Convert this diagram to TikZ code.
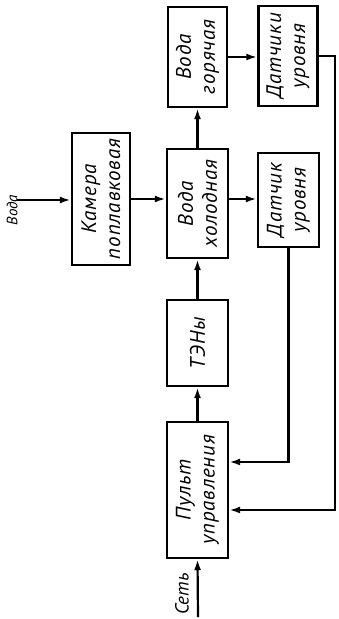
\documentclass[tikz,border=0pt]{standalone}
\usepackage{fontspec}
\setmainfont{PT Sans}
\usetikzlibrary{arrows.meta}

\tikzset{
  blok/.style={draw, line width=2.4pt, rotate=90, align=center, inner sep=0pt,
    font=\itshape\fontsize{21}{24}\selectfont\addfontfeature{LetterSpace=4}},
  strel/.style={line width=2.2pt, -{Latex[length=11pt,width=7pt]}},
  metka/.style={rotate=90, inner sep=0pt, font=\itshape\fontsize{15}{17}\selectfont},
}

\begin{document}
\begin{tikzpicture}[x=1pt, y=-1pt]
    \useasboundingbox (0,0) rectangle (338,619);

    % bloki (povernuty na 90 gradusov)
    \node[blok, minimum width=132pt, minimum height=58pt] (kam) at (101,199) {Камера\\поплавковая};
    \node[blok, minimum width=109pt, minimum height=61pt] (vx) at (197.5,203.5) {Вода\\холодная};
    \node[blok, minimum width=100pt, minimum height=59pt] (vg) at (197.5,57) {Вода\\горячая};
    \node[blok, minimum width=100pt, minimum height=59pt] (dk2) at (288,56) {Датчики\\уровня};
    \node[blok, minimum width=94pt, minimum height=61pt] (dk1) at (288.5,200) {Датчик\\уровня};
    \node[blok, minimum width=86pt, minimum height=61pt] (ten) at (197.5,343) {ТЭНы};
    \node[blok, minimum width=136pt, minimum height=61pt] (pult) at (197.5,490) {Пульт\\управления};

    % vhody
    \coordinate (vin) at (17,200);
    \coordinate (set) at (198,617);
    \coordinate (pravo) at (335,510);
    \node[metka] (lvoda) at (12,210) {Вода};
    \node[metka, font=\itshape\fontsize{19}{21}\selectfont] (lset) at (182,594) {Сеть};

    % svyazi
    \draw[strel] (vin) -- (vin -| kam.north);
    \draw[strel] (kam.south) -- (kam.south -| vx.north);
    \draw[strel] (vx.south |- kam.south) -- (kam.south -| dk1.north);
    \draw[strel] (vx.east) -- (vx.east |- vg.west);
    \draw[strel] (vg.south) -- (vg.south -| dk2.north);
    \draw[strel] (ten.east) -- (ten.east |- vx.west);
    \draw[strel] (pult.east) -- (pult.east |- ten.west);
    \draw[strel] (set) -- (pult.west);
    \draw[strel] (dk1.west) -- (dk1.west |- 0,462) -- (pult.south |- 0,462);
    \draw[strel] (dk2.south) -| (pravo) -- (pravo -| pult.south);
\end{tikzpicture}
\end{document}
